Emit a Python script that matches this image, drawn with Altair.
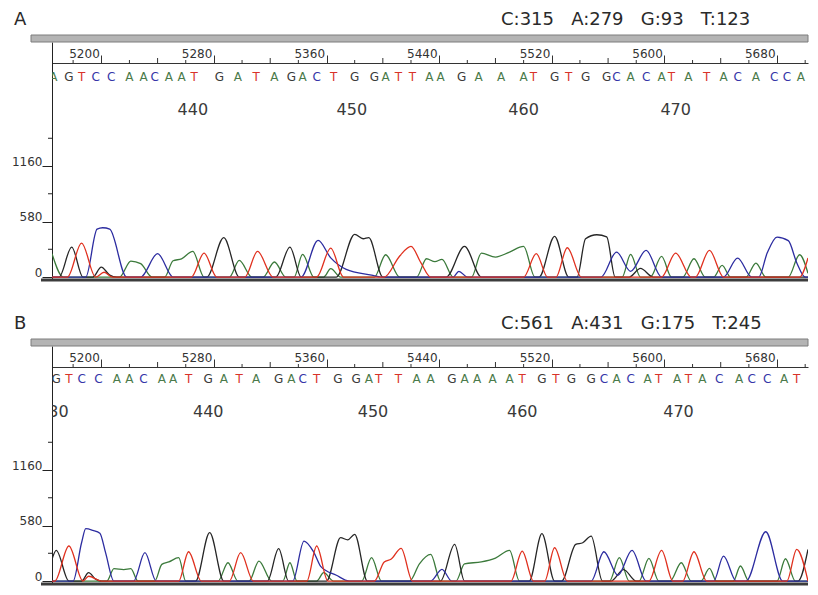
import altair as alt
import pandas as pd

# ---------------- data ----------------
RULER_MAJOR = [5200, 5280, 5360, 5440, 5520, 5600, 5680]
RULER_MID = [5240, 5320, 5400, 5480, 5560, 5640]
RULER_SMALL = [5180, 5220, 5260, 5300, 5340, 5380, 5420, 5460, 5500, 5540, 5580, 5620, 5660, 5700]
Y_LABELLED = [0, 580, 1160]
Y_MINOR = [290, 870, 1450]

# panel A
COUNTS_A = {"C": 315, "A": 279, "G": 93, "T": 123}
BASES_A = "AGTCCAACAATGATAGACTGGATTAAGAAATGTGGCACATATACACCAT"
BASE_POS_A = [5166, 5177, 5186, 5196, 5207, 5220, 5230, 5238, 5248, 5257,
              5266, 5284, 5297, 5310, 5323, 5335, 5343, 5353, 5365, 5380,
              5394, 5402, 5411, 5421, 5433, 5441, 5456, 5468, 5484, 5500,
              5507, 5522, 5532, 5544, 5559, 5566, 5576, 5587, 5598, 5605,
              5617, 5630, 5642, 5652, 5665, 5678, 5687, 5697, 5705]
NUMS_A = [440, 450, 460, 470]
NUM_POS_A = [5265, 5378, 5500, 5608]

A_TRACE_A = [(5165, 244), (5173, 0), (5213, 0), (5221, 167), (5228, 140), (5236, 0), (5245, 0), (5251, 170),
             (5257, 190), (5265, 268), (5273, 0), (5291, 0), (5298, 174), (5307, 0), (5315, 0), (5323, 157),
             (5331, 0), (5337, 0), (5343, 237), (5351, 0), (5358, 0), (5363, 87), (5370, 0), (5394, 0),
             (5402, 233), (5412, 0), (5424, 0), (5431, 191), (5437, 160), (5442, 185), (5450, 0), (5463, 0),
             (5470, 250), (5480, 209), (5490, 261), (5500, 320), (5508, 0), (5570, 0), (5576, 237), (5583, 0),
             (5590, 0), (5598, 216), (5605, 0), (5613, 0), (5621, 191), (5629, 0), (5635, 0), (5641, 122),
             (5647, 0), (5658, 0), (5665, 146), (5672, 0), (5688, 0), (5696, 233), (5702, 40)]
A_TRACE_G = [(5165, 0), (5170, 0), (5179, 313), (5187, 0), (5194, 0), (5200, 104), (5206, 20), (5211, 0),
             (5275, 0), (5287, 411), (5298, 0), (5324, 0), (5334, 313), (5342, 0), (5367, 0), (5380, 446),
             (5386, 400), (5390, 411), (5400, 0), (5445, 0), (5458, 320), (5470, 0), (5511, 0), (5522, 425),
             (5532, 0), (5538, 0), (5544, 400), (5552, 442), (5559, 420), (5565, 0), (5575, 0), (5583, 90),
             (5592, 0), (5702, 0)]
A_TRACE_C = [(5165, 0), (5189, 0), (5197, 500), (5201, 515), (5206, 500), (5218, 0), (5228, 0), (5240, 244),
             (5251, 0), (5342, 0), (5354, 383), (5363, 200), (5374, 80), (5392, 20), (5399, 0), (5450, 0),
             (5454, 60), (5460, 0), (5555, 0), (5566, 261), (5576, 60), (5587, 278), (5598, 0), (5642, 0),
             (5652, 198), (5662, 0), (5667, 0), (5673, 250), (5680, 418), (5688, 380), (5694, 150), (5700, 0),
             (5702, 0)]
A_TRACE_T = [(5165, 0), (5176, 0), (5186, 355), (5196, 0), (5202, 50), (5208, 0), (5264, 0), (5273, 250),
             (5282, 0), (5302, 0), (5311, 268), (5322, 0), (5353, 0), (5363, 303), (5372, 0), (5401, 0),
             (5412, 220), (5420, 320), (5427, 150), (5434, 0), (5500, 0), (5509, 244), (5517, 0), (5523, 0),
             (5531, 306), (5541, 0), (5598, 0), (5608, 250), (5619, 0), (5622, 0), (5632, 278), (5642, 0),
             (5696, 0), (5702, 200)]

# panel B
COUNTS_B = {"C": 561, "A": 431, "G": 175, "T": 245}
BASES_B = "GTCCAACAATGATAGACTGGATTAAGAAAATGTGGCACATATACACCATG"
BASE_POS_B = [5168, 5177, 5186, 5198, 5211, 5220, 5230, 5243, 5251, 5262,
              5276, 5287, 5298, 5310, 5326, 5335, 5343, 5353, 5368, 5381,
              5390, 5397, 5411, 5424, 5434, 5449, 5458, 5467, 5478, 5490,
              5499, 5513, 5523, 5534, 5548, 5557, 5566, 5576, 5588, 5596,
              5609, 5617, 5627, 5639, 5653, 5662, 5673, 5685, 5694, 5706]
NUMS_B = [430, 440, 450, 460, 470]
NUM_POS_B = [5166, 5276, 5393, 5499, 5610]

B_TRACE_A = [(5165, 0), (5204, 0), (5209, 130), (5216, 120), (5221, 130), (5226, 0), (5238, 0), (5243, 174),
             (5248, 200), (5255, 244), (5260, 0), (5283, 0), (5290, 191), (5297, 0), (5305, 0), (5312, 209),
             (5321, 0), (5329, 0), (5334, 191), (5339, 0), (5353, 0), (5358, 87), (5365, 0), (5385, 0),
             (5392, 244), (5399, 0), (5419, 0), (5426, 180), (5434, 278), (5441, 0), (5452, 0), (5458, 180),
             (5470, 200), (5480, 240), (5490, 320), (5497, 0), (5561, 0), (5568, 244), (5575, 0), (5582, 0),
             (5589, 237), (5596, 0), (5604, 0), (5612, 191), (5619, 0), (5626, 0), (5632, 132), (5637, 0),
             (5649, 0), (5654, 157), (5660, 0), (5680, 0), (5686, 233), (5693, 0), (5702, 0)]
B_TRACE_G = [(5165, 226), (5168, 320), (5177, 0), (5186, 0), (5191, 87), (5196, 20), (5200, 0), (5267, 0),
             (5277, 505), (5287, 0), (5318, 0), (5326, 338), (5333, 0), (5360, 0), (5370, 453), (5375, 430),
             (5380, 488), (5389, 0), (5441, 0), (5451, 383), (5458, 0), (5504, 0), (5513, 495), (5522, 0),
             (5527, 0), (5537, 383), (5542, 400), (5548, 470), (5556, 0), (5562, 0), (5571, 120), (5580, 0),
             (5695, 0), (5702, 330)]
B_TRACE_C = [(5165, 0), (5180, 0), (5186, 400), (5189, 547), (5194, 530), (5199, 500), (5203, 300), (5209, 0),
             (5223, 0), (5231, 296), (5239, 0), (5336, 0), (5344, 418), (5351, 300), (5356, 150), (5367, 60),
             (5376, 0), (5434, 0), (5442, 122), (5449, 0), (5548, 0), (5557, 306), (5567, 60), (5577, 320),
             (5587, 0), (5635, 0), (5642, 261), (5651, 0), (5658, 0), (5672, 515), (5684, 0), (5702, 0)]
B_TRACE_T = [(5165, 0), (5167, 0), (5177, 366), (5187, 0), (5191, 50), (5200, 0), (5255, 0), (5262, 306),
             (5271, 0), (5291, 0), (5299, 296), (5308, 0), (5346, 0), (5353, 366), (5361, 0), (5394, 0),
             (5401, 200), (5406, 230), (5413, 341), (5421, 0), (5491, 0), (5499, 313), (5507, 0), (5515, 0),
             (5522, 348), (5531, 0), (5589, 0), (5598, 320), (5606, 0), (5613, 0), (5621, 306), (5630, 0),
             (5687, 0), (5694, 331), (5702, 0)]

# ---------------- styling ----------------
COLORS = {"A": "#3b7a3b", "C": "#2c2ca0", "G": "#262626", "T": "#e0301e"}
LETTER_COLORS = {"A": "#4a7a4a", "C": "#3535a8", "G": "#3a3a3a", "T": "#d8332a"}
FONT = "DejaVu Sans"
W, H = 756, 238
X_DOMAIN = [5165, 5702]
Y_DOMAIN = [-31, 2456]

XS = alt.Scale(domain=X_DOMAIN, nice=False, zero=False)
YS = alt.Scale(domain=Y_DOMAIN, nice=False, zero=False)

RULER_AXIS = alt.Axis(orient="top", offset=-21, values=RULER_MAJOR, tickSize=8, labelAlign="right",
                      labelBaseline="alphabetic", labelPadding=-2, labelOffset=-2, labelFontSize=12,
                      labelFont=FONT, labelColor="#333333", format="d", domainColor="#333333",
                      tickColor="#333333", grid=False, title=None, labelFlush=False)
Y_AXIS = alt.Axis(values=Y_LABELLED, tickSize=10, labelPadding=0, labelBaseline="alphabetic",
                  labelOffset=-1, labelFontSize=12, labelFont=FONT, labelColor="#333333",
                  domainColor="#222222", tickColor="#222222", grid=False, title=None, format="d")


def ex(field):
    return alt.X(field, type="quantitative", scale=XS, axis=RULER_AXIS, title=None)


def ey(field):
    return alt.Y(field, type="quantitative", scale=YS, axis=Y_AXIS, title=None)


def panel(letter, counts, bases, base_pos, nums, num_pos, traces, base_y, num_y):
    one = pd.DataFrame({"k": [0]})
    bar = alt.Chart(one).mark_rect(fill="#b4b4b4", stroke="#7c7c7c", strokeWidth=1).encode(
        x=alt.value(-21), x2=alt.value(W), y=alt.value(-7), y2=alt.value(0))
    bottom = alt.Chart(one).mark_rule(color="#3c3c3c", strokeWidth=3).encode(
        x=alt.value(-11), x2=alt.value(W), y=alt.value(H))
    yminor = alt.Chart(pd.DataFrame({"v": Y_MINOR})).mark_rule(color="#222222").encode(
        y=ey("v"), x=alt.value(-4), x2=alt.value(0))
    rmid = alt.Chart(pd.DataFrame({"t": RULER_MID})).mark_rule(color="#333333").encode(
        x=ex("t"), y=alt.value(21), y2=alt.value(16))
    rsmall = alt.Chart(pd.DataFrame({"t": RULER_SMALL})).mark_rule(color="#333333").encode(
        x=ex("t"), y=alt.value(21), y2=alt.value(18))

    layers = [bar, rmid, rsmall, yminor]
    for ch in ["A", "G", "C", "T"]:
        df = pd.DataFrame(traces[ch], columns=["scan", "signal"])
        layers.append(alt.Chart(df).mark_line(interpolate="monotone", strokeWidth=1.3, clip=True,
                                              color=COLORS[ch]).encode(x=ex("scan"), y=ey("signal")))

    bdf = pd.DataFrame({"b": list(bases), "pos": base_pos})
    letters = alt.Chart(bdf).mark_text(font=FONT, fontSize=12, baseline="middle", align="center",
                                       clip=True).encode(
        x=ex("pos"), y=alt.value(base_y), text="b:N",
        color=alt.Color("b:N", scale=alt.Scale(domain=list(LETTER_COLORS.keys()),
                                               range=list(LETTER_COLORS.values())), legend=None))
    ndf = pd.DataFrame({"n": [str(n) for n in nums], "pos": num_pos})
    numbers = alt.Chart(ndf).mark_text(font=FONT, fontSize=16, baseline="middle", align="center",
                                       color="#3a3a3a", clip=True).encode(
        x=ex("pos"), y=alt.value(num_y), text="n:N")

    sp = "\u00a0\u00a0\u00a0"
    count_txt = sp.join(f"{k}:{counts[k]}" for k in ["C", "A", "G", "T"])
    head = alt.Chart(pd.DataFrame({"s": [letter, count_txt], "px": [-38, 449]})).mark_text(
        font=FONT, fontSize=18, baseline="alphabetic", align="left", color="#2a2a2a").encode(
        x=alt.X("px:Q", scale=None), y=alt.value(-17), text="s:N")

    layers += [letters, numbers, head, bottom]
    return alt.layer(*layers).properties(width=W, height=H)


pa = panel("A", COUNTS_A, BASES_A, BASE_POS_A, NUMS_A, NUM_POS_A,
           {"A": A_TRACE_A, "G": A_TRACE_G, "C": A_TRACE_C, "T": A_TRACE_T}, 35, 68)
pb = panel("B", COUNTS_B, BASES_B, BASE_POS_B, NUMS_B, NUM_POS_B,
           {"A": B_TRACE_A, "G": B_TRACE_G, "C": B_TRACE_C, "T": B_TRACE_T}, 33, 66)

chart = alt.vconcat(pa, pb, spacing=33).properties(
    padding={"left": 3, "top": 3, "right": 0, "bottom": 0}
).configure_view(stroke=None)

chart.save("out.html", embed_options={"renderer": "svg", "actions": False})
